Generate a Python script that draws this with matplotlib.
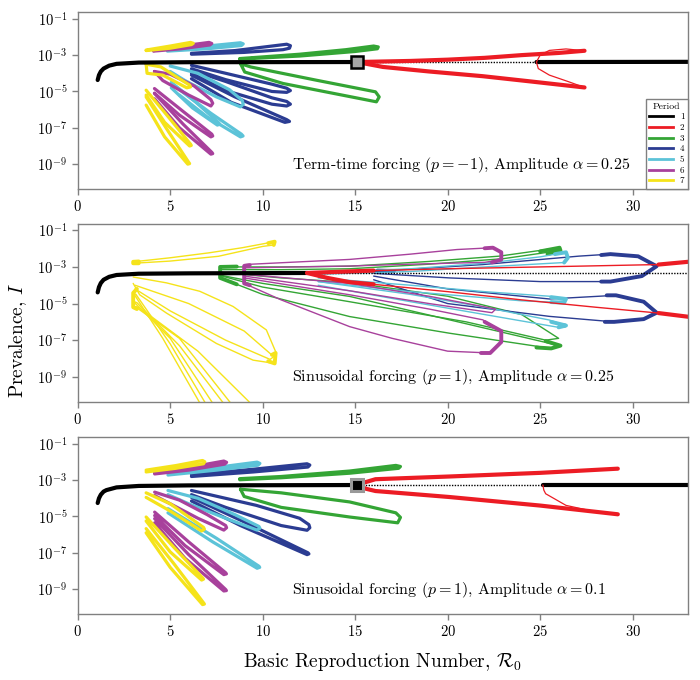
import numpy as np
import matplotlib.pyplot as plt
from matplotlib.lines import Line2D

plt.rcParams['font.family'] = ['cmr10', 'DejaVu Serif']
plt.rcParams['mathtext.fontset'] = 'cm'
plt.rcParams['axes.formatter.use_mathtext'] = True

# colours per period
period_colors = {1: '#000000', 2: '#ec1c24', 3: '#34a535', 4: '#2b3c92',
                 5: '#5cc3d8', 6: '#a8419c', 7: '#f5e31a'}

# ---------------- data: (R0, log10 I) ----------------
# panel 1: term-time forcing, alpha = 0.25
tt_black = [(1.08, -4.37), (1.15, -4.1), (1.25, -3.9), (1.4, -3.74), (1.7, -3.58),
            (2.1, -3.48), (3.3, -3.41), (6, -3.39), (15.1, -3.38), (24.8, -3.38), (33, -3.37)]
tt_pd, tt_fold = 15.1, 24.8
tt_red_up = [(15.1, -3.38), (18, -3.32), (20, -3.25), (22, -3.15), (24, -3.0), (26, -2.88), (27.4, -2.76)]
tt_red_lo = [(15.1, -3.38), (16.5, -3.65), (19, -3.9), (21.9, -4.16), (24.5, -4.45), (27.4, -4.78)]
tt_red_thin = [(27.4, -2.76), (26.4, -2.66), (25.5, -2.74), (25.0, -3.0), (24.8, -3.38),
               (24.9, -3.74), (25.5, -4.1), (26.5, -4.45), (27.4, -4.78)]
tt_p3 = [
    [(8.76, -3.19), (12, -2.95), (14.5, -2.7), (16.0, -2.5), (16.25, -2.55), (16.2, -2.65), (15, -2.8),
     (12, -3.05), (8.76, -3.22)],
    [(8.8, -3.47), (9.03, -3.93), (11.1, -4.56), (15.8, -5.5), (16.15, -5.57), (16.3, -5.3), (16.1, -5.02),
     (12.9, -4.38), (9.35, -3.65), (8.8, -3.47)],
]
tt_p4 = [
    [(6.15, -2.9), (8.5, -2.75), (10.5, -2.5), (11.3, -2.4), (11.5, -2.48), (11.45, -2.62), (11.1, -2.7),
     (9, -2.85), (6.15, -2.95)],
    [(6.15, -3.56), (8, -4.0), (10.5, -4.6), (11.3, -4.82), (11.5, -4.95), (11.3, -5.05), (10.5, -5.0),
     (8, -4.35), (6.15, -3.75)],
    [(6.15, -3.83), (8, -4.45), (10.5, -5.35), (11.3, -5.55), (11.5, -5.7), (11.3, -5.8), (10.5, -5.7),
     (8, -4.95), (6.15, -4.0)],
    [(6.15, -4.1), (8.5, -5.3), (11.3, -6.55), (11.45, -6.65), (11.2, -6.7), (8.3, -5.6), (6.15, -4.3)],
]
tt_p5 = [
    [(4.85, -2.72), (7, -2.5), (8.8, -2.32), (8.95, -2.38), (8.85, -2.47), (7, -2.65), (4.85, -2.78)],
    [(5.0, -3.6), (6.5, -4.0), (8.2, -4.9), (8.9, -5.5), (8.95, -5.7), (8.8, -5.85), (7.5, -5.3),
     (5.8, -4.4), (5.0, -3.9)],
    [(5.06, -4.5), (6.4, -5.6), (7.6, -6.7), (7.68, -6.8), (7.55, -6.85), (6.2, -5.9), (5.06, -4.8)],
    [(5.5, -4.9), (7.2, -6.2), (8.85, -7.35), (8.94, -7.45), (8.8, -7.5), (7.0, -6.4), (5.5, -5.2)],
]
tt_p6 = [
    [(4.1, -2.75), (5.6, -2.5), (7.1, -2.3), (7.25, -2.36), (7.15, -2.44), (5.6, -2.65), (4.1, -2.78)],
    [(4.15, -3.9), (5.0, -4.05), (6.3, -4.7), (7.2, -5.45), (7.3, -5.65), (7.2, -5.8), (6.0, -5.2),
     (4.6, -4.4), (4.15, -3.9)],
    [(4.15, -4.84), (5.7, -6.1), (7.25, -7.35), (7.3, -7.45), (7.2, -7.5), (5.5, -6.3), (4.15, -5.1)],
    [(4.15, -5.1), (5.7, -6.8), (7.25, -8.35), (7.3, -8.42), (7.2, -8.45), (5.5, -7.0), (4.15, -5.4)],
]
tt_p7 = [
    [(3.7, -2.72), (5.0, -2.5), (6.1, -2.3), (6.25, -2.35), (6.15, -2.42), (5.0, -2.62), (3.7, -2.75)],
    [(3.7, -3.5), (4.5, -3.65), (5.5, -4.3), (6.05, -4.65), (6.1, -4.75), (5.9, -4.8), (4.6, -4.1),
     (3.75, -4.0), (3.7, -3.5)],
    [(3.7, -4.93), (4.9, -6.4), (6.1, -7.9), (6.14, -7.97), (6.05, -8.0), (4.7, -6.7), (3.7, -5.2)],
    [(3.7, -5.3), (4.9, -7.2), (6.0, -8.9), (6.05, -8.97), (5.95, -9.0), (4.7, -7.5), (3.7, -5.75)],
]

# panel 2: sinusoidal forcing, alpha = 0.25
sa_black = [(1.08, -4.39), (1.15, -4.1), (1.25, -3.88), (1.4, -3.7), (1.7, -3.54),
            (2.1, -3.44), (3.3, -3.37), (6, -3.35), (12.4, -3.33), (33, -3.33)]
sa_pd = 12.4
sa_red_up = [(12.4, -3.33), (14, -3.27), (16, -3.2)]
sa_red_up_thin = [(16, -3.2), (20, -3.1), (25, -3.0), (31.4, -2.87)]
sa_red_up_end = [(31.4, -2.87), (33, -2.72)]
sa_red_lo = [(12.4, -3.33), (13.5, -3.6), (14.7, -3.83), (16, -3.95)]
sa_red_lo_thin = [(16, -3.95), (20, -4.35), (24, -4.8), (28, -5.2), (31.4, -5.52)]
sa_red_lo_end = [(31.4, -5.52), (33, -5.72)]
sa_p3 = [
    [(7.7, -3.0), (11, -3.0), (14.7, -2.96), (19, -2.7), (22.8, -2.41), (26.05, -1.95), (26.1, -2.1),
     (23, -2.55), (19, -2.85), (14.7, -3.1), (11, -3.15), (7.7, -3.15)],
    [(7.7, -3.45), (10, -3.9), (14.7, -4.61), (20.1, -5.89), (25.5, -7.17), (26.1, -7.3), (25.6, -7.45),
     (20.1, -6.62), (14.7, -5.71), (10, -4.5), (7.7, -3.6)],
    [(7.8, -3.3), (11, -3.6), (14.7, -3.85), (20, -4.6), (24, -5.6), (26.0, -6.9), (25.3, -7.0),
     (21, -6.0), (14.7, -4.9), (10, -4.1), (7.8, -3.5)],
]
sa_p3_thick = [
    [(8.6, -2.98), (7.7, -3.0), (7.7, -3.6), (8.6, -3.95)],
    [(25.0, -2.15), (26.05, -1.95), (26.1, -2.1), (25.4, -2.3)],
    [(25.3, -7.05), (26.1, -7.3), (25.6, -7.45), (24.8, -7.4)],
]
sa_p4 = [
    [(16.0, -3.25), (21.9, -2.87), (27.1, -2.41), (28.8, -2.3), (30.3, -2.42), (31.3, -2.96), (30.5, -3.5),
     (28.8, -3.8), (25, -3.8), (20.1, -3.6), (16, -3.35)],
    [(16, -3.5), (20, -4.2), (25.5, -4.75), (29.1, -4.55), (30.6, -4.9), (31.3, -5.5), (30.6, -5.85),
     (29, -6.0), (25.5, -5.7), (20, -5.0), (16, -3.7)],
]
sa_p4_thick = [
    [(28.3, -2.35), (28.8, -2.3), (30.3, -2.42), (31.3, -2.96), (30.5, -3.5), (28.8, -3.8), (28.3, -3.8)],
    [(28.6, -4.55), (29.1, -4.55), (30.6, -4.9), (31.3, -5.5), (30.6, -5.85), (29, -6.0), (28.5, -6.0)],
    [(16.2, -3.2), (17.1, -3.22)],
]
sa_p5 = [
    [(13, -3.3), (18, -3.1), (22, -2.8), (25, -2.45), (26.4, -2.2), (26.5, -2.5), (26.3, -2.76),
     (22, -3.0), (18, -3.25), (13, -3.4)],
    [(13, -3.6), (18, -4.0), (22, -4.35), (25.5, -4.6), (26.4, -4.75), (26.3, -4.95), (24, -4.85),
     (18, -4.35), (13, -3.8)],
    [(13, -3.8), (18, -4.5), (22, -5.2), (25.5, -5.9), (26.4, -6.2), (26.0, -6.3), (22, -5.6),
     (18, -4.9), (13, -4.0)],
]
sa_p5_thick = [
    [(25.8, -2.3), (26.4, -2.2), (26.5, -2.5), (26.3, -2.76)],
    [(25.6, -4.65), (26.4, -4.75), (26.3, -4.95), (25.6, -4.92)],
    [(25.6, -6.0), (26.4, -6.2), (26.0, -6.3)],
]
sa_p6 = [
    [(9.0, -2.87), (14.7, -2.59), (18, -2.3), (20.5, -2.05), (22.45, -1.95), (22.9, -2.2), (22.9, -2.6),
     (22, -2.75), (18, -2.85), (14.7, -2.95), (9.0, -3.05)],
    [(9.0, -3.6), (14.7, -4.52), (19, -5.3), (21.9, -5.89), (22.9, -6.5), (22.9, -7.1), (22.3, -7.7),
     (20, -7.6), (17, -6.9), (14.7, -6.26), (11, -4.8), (9.0, -3.9)],
    [(9.0, -3.4), (14.7, -3.9), (19, -4.6), (22.6, -5.3), (22.4, -5.5), (19, -5.0), (14.7, -4.3), (9, -3.5)],
]
sa_p6_thick = [
    [(9.3, -2.9), (9.0, -2.95), (9.0, -3.9), (9.3, -4.0)],
    [(22.0, -1.98), (22.45, -1.95), (22.9, -2.2), (22.9, -2.6), (22.4, -2.75)],
    [(22.0, -6.0), (22.9, -6.5), (22.9, -7.1), (22.3, -7.7), (21.8, -7.7)],
]
sa_p7 = [
    [(3.0, -2.72), (5, -2.5), (7.1, -2.23), (8.9, -1.95), (10.65, -1.62), (10.6, -1.8), (10.0, -1.88),
     (7.6, -2.42), (5, -2.68), (3.0, -2.8)],
    [(3.0, -3.55), (4.8, -3.87), (6.6, -4.33), (8.4, -5.16), (10.2, -6.44), (10.74, -7.72), (10.65, -8.27),
     (9.48, -8.09), (7.5, -7.18), (4.8, -5.52), (3.35, -4.52), (3.0, -3.9)],
    [(3.1, -4.0), (6, -5.0), (9, -6.5), (10.6, -7.9), (10.4, -8.05), (8, -7.0), (5, -5.4), (3.1, -4.2)],
    [(6.7, -10.6), (4.6, -6.9), (3.0, -4.42), (3.15, -4.5), (5.0, -7.2), (7.0, -10.6)],
    [(7.4, -10.6), (5.0, -6.9), (3.0, -4.88), (3.2, -4.95), (5.5, -7.3), (8.0, -10.6)],
    [(8.4, -10.6), (5.5, -6.9), (3.1, -5.16), (3.3, -5.2), (6.5, -7.6), (9.5, -10.6)],
]
sa_p7_thick = [
    [(3.3, -2.7), (3.0, -2.72), (3.0, -2.8), (3.3, -2.8)],
    [(10.3, -1.7), (10.65, -1.62), (10.6, -1.8)],
    [(10.5, -7.8), (10.7, -7.7), (10.65, -8.27), (10.3, -8.15)],
    [(3.2, -4.2), (3.0, -4.42), (3.0, -5.2), (3.2, -5.3)],
]

# panel 3: sinusoidal forcing, alpha = 0.1
sb_black = [(1.08, -4.26), (1.15, -4.0), (1.25, -3.8), (1.4, -3.63), (1.55, -3.55), (2.1, -3.4),
            (3.3, -3.32), (6, -3.29), (15.1, -3.27), (25.15, -3.27), (33, -3.27)]
sb_pd, sb_fold = 15.1, 25.15
sb_red_up = [(15.1, -3.27), (15.6, -3.1), (16.1, -2.95), (20.1, -2.8), (25, -2.6), (29.2, -2.37)]
sb_red_lo = [(15.1, -3.27), (15.6, -3.48), (16.1, -3.6), (20.1, -3.93), (25, -4.4), (29.2, -4.88)]
sb_red_thin = [(25.15, -3.27), (25.2, -3.55), (25.3, -3.75), (26.4, -4.39), (27.8, -4.7), (29.2, -4.88)]
sb_p3 = [
    [(8.76, -2.92), (11, -2.8), (14.7, -2.5), (17.2, -2.19), (17.45, -2.25), (17.35, -2.35), (14.7, -2.62),
     (11, -2.87), (8.76, -2.98)],
    [(8.8, -3.5), (11, -3.7), (14.7, -4.2), (17.2, -4.8), (17.45, -5.05), (17.3, -5.35), (14.7, -5.03),
     (11, -4.5), (9.0, -3.9), (8.8, -3.5)],
]
sb_p4 = [
    [(6.15, -2.7), (9.5, -2.4), (12.4, -2.1), (12.55, -2.17), (12.45, -2.28), (9.5, -2.55), (6.15, -2.8)],
    [(6.15, -3.57), (9.66, -4.39), (12.0, -5.1), (12.5, -5.45), (12.55, -5.62), (12.4, -5.76), (11, -5.5),
     (8, -4.5), (6.15, -3.8)],
    [(6.15, -3.95), (9, -5.3), (12.45, -7.0), (12.5, -7.06), (12.4, -7.1), (8.8, -5.5), (6.15, -4.15)],
]
sb_p5 = [
    [(4.88, -2.61), (7.5, -2.3), (9.7, -2.01), (9.85, -2.08), (9.75, -2.18), (7.5, -2.45), (4.88, -2.72)],
    [(4.88, -3.57), (6.5, -4.0), (8.5, -4.9), (9.8, -5.55), (9.85, -5.65), (9.7, -5.75), (8, -5.1),
     (6, -4.3), (4.88, -3.8)],
    [(4.88, -4.57), (7.5, -6.2), (9.8, -7.74), (9.84, -7.8), (9.7, -7.85), (7.3, -6.4), (4.88, -4.8)],
]
sb_p6 = [
    [(4.16, -2.56), (6, -2.3), (7.9, -1.95), (8.05, -2.02), (7.95, -2.12), (6, -2.45), (4.16, -2.66)],
    [(4.16, -3.66), (5.5, -4.1), (7, -4.9), (8.0, -5.5), (8.05, -5.62), (7.9, -5.75), (6.5, -5.1),
     (5.0, -4.3), (4.16, -3.85)],
    [(4.16, -4.76), (6, -6.4), (8.0, -8.1), (8.04, -8.16), (7.9, -8.2), (5.8, -6.6), (4.16, -4.95)],
    [(4.16, -5.12), (6, -7.1), (8.0, -9.02), (8.04, -9.08), (7.9, -9.1), (5.8, -7.3), (4.16, -5.35)],
]
sb_p7 = [
    [(3.7, -2.45), (5.3, -2.2), (6.75, -1.92), (6.87, -1.99), (6.8, -2.1), (5.3, -2.35), (3.7, -2.55)],
    [(3.7, -3.7), (5.0, -4.3), (6.8, -5.6), (6.85, -5.7), (6.7, -5.8), (5.0, -4.7), (3.7, -3.95)],
    [(3.7, -5.03), (5.2, -6.7), (6.75, -8.38), (6.8, -8.45), (6.7, -8.5), (5.0, -6.95), (3.7, -5.25)],
    [(3.7, -5.67), (5.2, -7.6), (6.8, -9.75), (6.85, -9.82), (6.75, -9.85), (5.0, -7.8), (3.7, -5.9)],
]

titles = [r'Term-time forcing ($p=-1$), Amplitude $\alpha=0.25$',
          r'Sinusoidal forcing ($p=1$), Amplitude $\alpha=0.25$',
          r'Sinusoidal forcing ($p=1$), Amplitude $\alpha=0.1$']


def line(ax, pts, color, lw, ls='-'):
    a = np.array(pts, dtype=float)
    ax.plot(a[:, 0], 10 ** a[:, 1], color=color, lw=lw, ls=ls,
            solid_joinstyle='round', solid_capstyle='round')


def black_curve(ax, pts, lo, hi, lw=3.0):
    a = np.array(pts, dtype=float)
    x, y = a[:, 0], 10 ** a[:, 1]
    m1 = x <= lo
    ax.plot(x[m1], y[m1], color='k', lw=lw, solid_capstyle='round')
    m2 = (x >= lo) & (x <= hi)
    ax.plot(x[m2], y[m2], color='k', lw=1.0, ls=(0, (1, 1)))
    if hi < 33:
        m3 = x >= hi
        ax.plot(x[m3], y[m3], color='k', lw=lw, solid_capstyle='round')


def style(ax, title):
    ax.set_yscale('log')
    ax.set_xlim(0, 33)
    ax.set_ylim(10 ** -10.37, 10 ** -0.64)
    ax.set_xticks([0, 5, 10, 15, 20, 25, 30])
    ax.set_yticks([1e-9, 1e-7, 1e-5, 1e-3, 1e-1])
    ax.minorticks_off()
    ax.tick_params(axis='both', labelsize=10.5, color='#808080', length=4, width=1, direction='out')
    for s in ax.spines.values():
        s.set_color('#808080')
        s.set_linewidth(1.0)
    ax.text(0.351, 0.137, title, transform=ax.transAxes, fontsize=11.5, va='center', ha='left')


fig = plt.figure(figsize=(7, 6.8), dpi=100)
ax1 = fig.add_axes([0.111, 0.722, 0.872, 0.260])
ax2 = fig.add_axes([0.111, 0.409, 0.872, 0.262])
ax3 = fig.add_axes([0.111, 0.097, 0.872, 0.260])

LW = 2.3

# panel 1
for per, loops in [(3, tt_p3), (4, tt_p4), (5, tt_p5), (6, tt_p6), (7, tt_p7)]:
    for lp in loops:
        line(ax1, lp, period_colors[per], LW)
black_curve(ax1, tt_black, tt_pd, tt_fold)
line(ax1, tt_red_up, period_colors[2], 3.0)
line(ax1, tt_red_lo, period_colors[2], 3.0)
line(ax1, tt_red_thin, period_colors[2], 0.9)
ax1.plot(tt_pd, 10 ** tt_black[8][1], marker='s', ms=8, mfc='#a6a6a6', mec='k', mew=1.8, zorder=5)

# panel 2
for per, loops, thick in [(3, sa_p3, sa_p3_thick), (4, sa_p4, sa_p4_thick), (5, sa_p5, sa_p5_thick),
                          (6, sa_p6, sa_p6_thick), (7, sa_p7, sa_p7_thick)]:
    for lp in loops:
        line(ax2, lp, period_colors[per], 1.0)
    for lp in thick:
        line(ax2, lp, period_colors[per], 2.8)
black_curve(ax2, sa_black, sa_pd, 33)
line(ax2, sa_red_up, period_colors[2], 3.0)
line(ax2, sa_red_lo, period_colors[2], 3.0)
line(ax2, sa_red_up_thin, period_colors[2], 1.0)
line(ax2, sa_red_lo_thin, period_colors[2], 1.0)
line(ax2, sa_red_up_end, period_colors[2], 3.0)
line(ax2, sa_red_lo_end, period_colors[2], 3.0)

# panel 3
for per, loops in [(3, sb_p3), (4, sb_p4), (5, sb_p5), (6, sb_p6), (7, sb_p7)]:
    for lp in loops:
        line(ax3, lp, period_colors[per], LW)
black_curve(ax3, sb_black, sb_pd, sb_fold)
line(ax3, sb_red_up, period_colors[2], 3.0)
line(ax3, sb_red_lo, period_colors[2], 3.0)
line(ax3, sb_red_thin, period_colors[2], 0.9)
ax3.plot(sb_pd, 10 ** sb_black[8][1], marker='s', ms=8, mfc='k', mec='#999999', mew=2.2, zorder=5)

for ax, t in zip([ax1, ax2, ax3], titles):
    style(ax, t)

# legend
handles = [Line2D([], [], color=period_colors[k], lw=2) for k in range(1, 8)]
leg = ax1.legend(handles, [str(k) for k in range(1, 8)], title='Period', loc='lower right',
                 fontsize=6.5, title_fontsize=7, borderaxespad=0, handlelength=2.6,
                 labelspacing=0.25, fancybox=False, framealpha=1, edgecolor='#808080')
leg.get_frame().set_linewidth(1.0)

fig.text(0.026, 0.5, r'Prevalence, $I$', rotation=90, fontsize=14, va='center', ha='center')
fig.text(0.547, 0.026, r'Basic Reproduction Number, $\mathcal{R}_0$', fontsize=14, va='center', ha='center')

fig.savefig('out.png', dpi=100)
